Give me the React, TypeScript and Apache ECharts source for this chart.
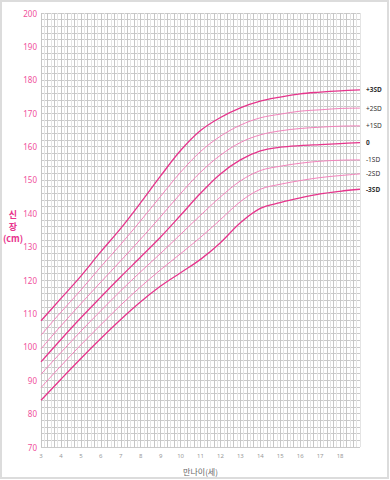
import React, { useEffect, useRef } from "react";
import * as echarts from "echarts";

const ages = [3, 4, 5, 6, 7, 8, 9, 10, 11, 12, 13, 14, 15, 16, 17, 18, 19];
const p3 = [107.8, 114.5, 121.2, 128.5, 135.5, 143.2, 151.2, 158.8, 164.8, 168.7, 171.6, 173.6, 174.8, 175.8, 176.3, 176.7, 177.0];
const p2 = [103.5, 110.4, 117.0, 124.0, 130.7, 137.8, 145.1, 152.3, 158.5, 163.1, 166.4, 168.6, 169.7, 170.6, 171.0, 171.4, 171.5];
const p1 = [99.4, 106.3, 112.9, 119.4, 125.8, 132.3, 139.0, 145.9, 152.3, 157.4, 161.2, 163.5, 164.7, 165.4, 165.8, 166.1, 166.2];
const m0 = [95.5, 102.2, 108.7, 114.9, 121.0, 126.9, 132.9, 139.4, 146.0, 151.8, 156.0, 158.7, 159.8, 160.3, 160.6, 160.9, 161.2];
const n1 = [91.8, 98.3, 104.7, 110.8, 116.8, 122.5, 128.0, 133.7, 139.4, 144.9, 149.7, 152.8, 154.1, 155.0, 155.6, 155.9, 156.0];
const n2 = [87.8, 94.3, 100.6, 106.6, 112.5, 118.0, 123.1, 127.9, 132.8, 138.1, 143.5, 147.2, 148.7, 149.8, 150.7, 151.3, 151.8];
const n3 = [84.0, 90.3, 96.5, 102.5, 108.2, 113.5, 118.2, 122.2, 126.2, 131.2, 137.2, 141.5, 143.2, 144.6, 145.8, 146.6, 147.2];

const seriesNames = ["+3SD", "+2SD", "+1SD", "0", "-1SD", "-2SD", "-3SD"];
const seriesData = [p3, p2, p1, m0, n1, n2, n3];
const strong = [true, false, false, true, false, false, true];

export default function App() {
  const ref = useRef<HTMLDivElement>(null);
  useEffect(() => {
    if (!ref.current) return;
    const chart = echarts.init(ref.current, null, { renderer: "svg" });
    const font = "'Noto Sans', sans-serif";
    const kr = "'Noto Sans CJK KR', sans-serif";
    chart.setOption({
      animation: false,
      backgroundColor: "#fff",
      textStyle: { fontFamily: font },
      grid: { left: 41, right: 30, top: 13, bottom: 33, containLabel: false },
      xAxis: [
        {
          type: "value",
          min: 3,
          max: 19,
          interval: 1,
          name: "만나이(세)",
          nameLocation: "middle",
          nameGap: 20,
          nameTextStyle: { color: "#666", fontSize: 8, fontFamily: kr },
          axisLine: { show: false },
          axisTick: { show: false },
          axisLabel: {
            color: "#999",
            fontSize: 6,
            margin: 6,
            formatter: (v: number) => (v >= 19 ? "" : String(v)),
          },
          splitLine: { show: false },
        },
        {
          type: "value",
          min: 3,
          max: 19,
          interval: 1 / 6,
          position: "bottom",
          axisLine: { show: false },
          axisTick: { show: false },
          axisLabel: { show: false },
          splitLine: { show: true, lineStyle: { color: ["#c6c6c6", "#e4e4e4"], width: 1 } },
        },
      ],
      yAxis: [
        {
          type: "value",
          min: 70,
          max: 200,
          interval: 10,
          axisLine: { show: false },
          axisTick: { show: false },
          axisLabel: { color: "#f0509c", fontSize: 8, margin: 4 },
          splitLine: { show: false },
        },
        {
          type: "value",
          min: 70,
          max: 200,
          interval: 2,
          position: "left",
          axisLine: { show: false },
          axisTick: { show: false },
          axisLabel: { show: false },
          splitLine: { show: true, lineStyle: { color: "#cacaca", width: 1 } },
        },
      ],
      graphic: [
        {
          type: "rect",
          shape: { x: 1, y: 1, width: 387, height: 477 },
          style: { fill: "none", stroke: "#dcdcdc", lineWidth: 2 },
          silent: true,
        },
        {
          type: "text",
          x: 13,
          y: 226,
          style: {
            text: "신\n장\n(cm)",
            fill: "#e8338d",
            fontSize: 9,
            lineHeight: 12,
            fontWeight: "bold",
            align: "center",
            verticalAlign: "middle",
            fontFamily: kr,
          },
        },
      ],
      series: seriesNames.map((name, i) => ({
        name,
        type: "line",
        xAxisIndex: 0,
        yAxisIndex: 0,
        data: ages.map((a, j) => [a, seriesData[i][j]]),
        smooth: 0.35,
        showSymbol: false,
        symbol: "none",
        lineStyle: { color: strong[i] ? "#e6358c" : "#f283bb", width: strong[i] ? 1.3 : 1 },
        endLabel: {
          show: true,
          formatter: name,
          color: "#333",
          fontSize: 6.5,
          fontWeight: strong[i] ? "bold" : "normal",
          distance: 6,
          fontFamily: font,
        },
        z: 3,
      })),
    });
    return () => chart.dispose();
  }, []);
  return (
    <div
      ref={ref}
      style={{ position: "absolute", left: 0, top: 0, width: 390, height: 480 }}
    />
  );
}
